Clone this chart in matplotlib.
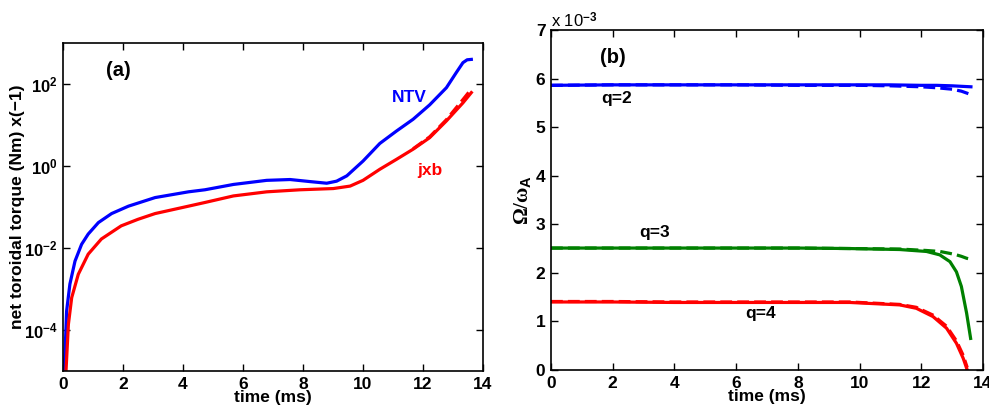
import numpy as np
import matplotlib
matplotlib.use('Agg')
import matplotlib.pyplot as plt

plt.rcParams['font.family'] = ['Liberation Sans', 'DejaVu Sans']
plt.rcParams['font.weight'] = 'bold'
plt.rcParams['axes.labelweight'] = 'bold'
plt.rcParams['mathtext.fontset'] = 'custom'
plt.rcParams['mathtext.rm'] = 'Liberation Serif'
plt.rcParams['mathtext.it'] = 'Liberation Serif:italic'
plt.rcParams['mathtext.bf'] = 'Liberation Sans:bold'
plt.rcParams['mathtext.sf'] = 'Liberation Sans:bold'

# panel (a): net toroidal torque, log10 values
t_ntv = [0.04, 0.07, 0.12, 0.23, 0.4, 0.62, 0.84, 1.18, 1.62, 2.18, 3.07, 4.18, 4.73, 5.68, 6.79, 7.57, 8.23, 8.79, 9.12, 9.46, 10.0, 10.56, 11.11, 11.67, 12.22, 12.78, 13.11, 13.33, 13.47, 13.61]
log_ntv = [-5.0, -4.51, -3.54, -2.88, -2.32, -1.91, -1.66, -1.38, -1.16, -0.98, -0.77, -0.63, -0.58, -0.45, -0.35, -0.33, -0.38, -0.42, -0.37, -0.24, 0.12, 0.55, 0.85, 1.14, 1.49, 1.91, 2.28, 2.52, 2.59, 2.60]
t_jxb = [0.1, 0.18, 0.29, 0.51, 0.84, 1.28, 1.94, 2.5, 3.07, 4.18, 4.73, 5.68, 6.79, 7.9, 9.01, 9.57, 10.0, 10.56, 11.11, 11.67, 12.22, 12.78, 13.33, 13.61]
log_jxb = [-5.0, -3.86, -3.21, -2.64, -2.15, -1.78, -1.46, -1.30, -1.16, -0.98, -0.89, -0.73, -0.63, -0.58, -0.55, -0.49, -0.35, -0.08, 0.16, 0.41, 0.69, 1.10, 1.54, 1.79]
t_jxb_d = [11.67, 12.22, 12.78, 13.33, 13.56]
log_jxb_d = [0.42, 0.71, 1.13, 1.62, 1.83]

# panel (b): rotation frequency, units of 1e-3
t_q2 = [0, 2, 4, 6, 8, 10, 11, 12, 12.5, 13, 13.3, 13.61]
q2_s = [5.86, 5.87, 5.87, 5.87, 5.87, 5.87, 5.87, 5.86, 5.86, 5.85, 5.84, 5.83]
q2_d = [5.86, 5.87, 5.87, 5.87, 5.86, 5.86, 5.85, 5.83, 5.81, 5.78, 5.74, 5.67]
t_q3 = [0, 2, 4, 6, 8, 9.69, 11.3, 12.17, 12.6, 12.93, 13.14, 13.3, 13.47, 13.6]
q3_s = [2.51, 2.51, 2.51, 2.51, 2.51, 2.50, 2.48, 2.44, 2.37, 2.23, 2.02, 1.72, 1.17, 0.65]
q3_d = [2.51, 2.51, 2.51, 2.51, 2.51, 2.50, 2.49, 2.46, 2.44, 2.40, 2.37, 2.34, 2.30, 2.28]
t_q4 = [0, 2, 4, 6, 8, 9.69, 11.3, 11.84, 12.38, 12.82, 13.14, 13.36, 13.49]
q4_s = [1.40, 1.40, 1.39, 1.39, 1.39, 1.39, 1.34, 1.27, 1.10, 0.86, 0.55, 0.24, 0.0]
q4_d = [1.41, 1.41, 1.40, 1.40, 1.40, 1.40, 1.35, 1.29, 1.13, 0.90, 0.60, 0.30, 0.05]

fig = plt.figure(figsize=(9.89, 4.11), dpi=100)

ax1 = fig.add_axes([0.0637, 0.0973, 0.4247, 0.7981])
ax1.semilogy(t_ntv, 10.0 ** np.array(log_ntv), color='b', lw=2.3)
ax1.semilogy(t_jxb_d, 10.0 ** np.array(log_jxb_d), color='r', lw=2.3, ls='--')
ax1.semilogy(t_jxb, 10.0 ** np.array(log_jxb), color='r', lw=2.3)
ax1.set_xlim(0, 14)
ax1.set_ylim(1e-5, 1e3)
ax1.minorticks_off()
ax1.set_yticks([1e-4, 1e-2, 1e0, 1e2])
ax1.set_yticklabels([r'$\mathbf{10^{-4}}$', r'$\mathbf{10^{-2}}$', r'$\mathbf{10^{0}}$', r'$\mathbf{10^{2}}$'], fontsize=12)
ax1.set_xticks(range(0, 15, 2))
ax1.set_xlabel('time (ms)', fontsize=12.5, labelpad=-1)
ax1.set_ylabel('net toroidal torque (Nm) x(\u22121)', fontsize=12.5, labelpad=-1)
ax1.text(1.43, 10 ** 2.32, '(a)', fontsize=14.5, fontweight='bold', va='center')
ax1.text(10.96, 10 ** 1.68, 'NTV', fontsize=12.5, fontweight='bold', color='b', va='center')
ax1.text(11.8, 10 ** -0.12, 'jxb', fontsize=12.5, fontweight='bold', color='r', va='center')

ax2 = fig.add_axes([0.5571, 0.0998, 0.4368, 0.8273])
ax2.plot(t_q2, q2_d, color='b', lw=2.3, ls='--')
ax2.plot(t_q2, q2_s, color='b', lw=2.3)
ax2.plot(t_q3, q3_d, color='g', lw=2.3, ls='--')
ax2.plot(t_q3, q3_s, color='g', lw=2.3)
ax2.plot(t_q4, q4_d, color='r', lw=2.3, ls='--')
ax2.plot(t_q4, q4_s, color='r', lw=2.3)
ax2.set_xlim(0, 14)
ax2.set_ylim(0, 7)
ax2.set_xticks(range(0, 15, 2))
ax2.set_yticks(range(0, 8))
ax2.set_xlabel('time (ms)', fontsize=12.5, labelpad=-1)
ax2.set_ylabel(r'$\mathrm{\Omega/\omega}_{\mathsf{A}}$', fontsize=15, labelpad=2)
ax2.text(0.0, 1.0, r'x 10$^{\mathsf{-3}}$', transform=ax2.transAxes, fontsize=12, fontweight='normal', ha='left', va='bottom')
ax2.text(1.6, 6.44, '(b)', fontsize=14.5, fontweight='bold', va='center')
ax2.text(1.64, 5.59, 'q=2', fontsize=12.5, fontweight='bold', va='center')
ax2.text(2.86, 2.83, 'q=3', fontsize=12.5, fontweight='bold', va='center')
ax2.text(6.29, 1.17, 'q=4', fontsize=12.5, fontweight='bold', va='center')

for ax in (ax1, ax2):
    ax.tick_params(direction='in', top=True, right=True, length=5, width=1, pad=4)
    ax.tick_params(axis='x', labelsize=12.5)
    for lab in ax.get_xticklabels() + ax.get_yticklabels():
        lab.set_fontweight('bold')
    for s in ax.spines.values():
        s.set_linewidth(1.2)
ax2.tick_params(axis='y', labelsize=12.5)

fig.savefig('out.png', dpi=100)
